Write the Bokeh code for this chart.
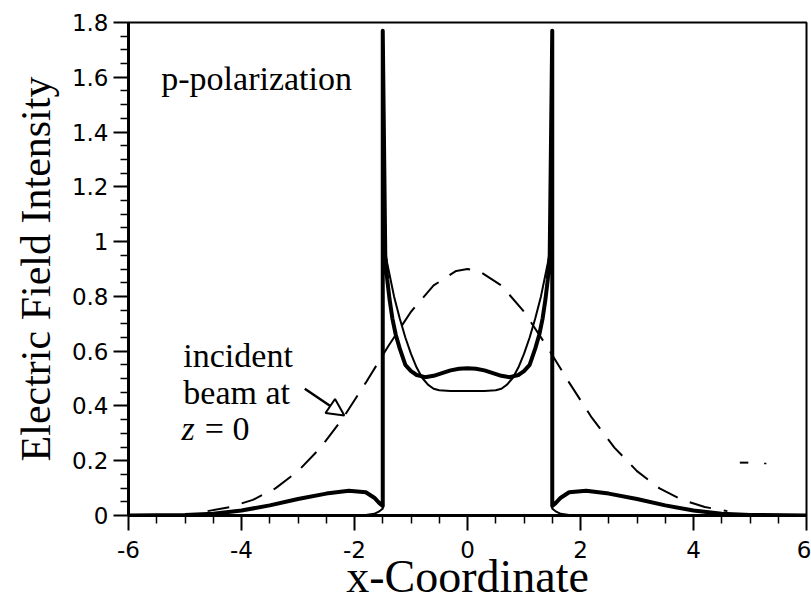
from bokeh.plotting import figure
from bokeh.models import FixedTicker, CustomJSTickFormatter, Arrow, NormalHead, Label
from bokeh.embed import file_html
from bokeh.resources import INLINE

# ---- data ----
x_thick = [-6.0, -5.0, -4.5, -4.0, -3.5, -3.0, -2.5, -2.1, -1.8, -1.65, -1.56, -1.5, -1.5,
           -1.455, -1.42, -1.38, -1.33, -1.27, -1.2, -1.1, -1.0, -0.9, -0.75, -0.6, -0.45,
           -0.3, -0.15, 0.0, 0.15, 0.3, 0.45, 0.6, 0.75, 0.9, 1.0, 1.1, 1.2, 1.27, 1.33,
           1.38, 1.42, 1.455, 1.5, 1.5, 1.56, 1.65, 1.8, 2.1, 2.5, 3.0, 3.5, 4.0, 4.5, 5.0, 6.0]
y_thick = [0.0, 0.002, 0.006, 0.018, 0.037, 0.06, 0.08, 0.09, 0.085, 0.065, 0.045, 0.035, 1.77,
           0.95, 0.86, 0.79, 0.72, 0.66, 0.61, 0.55, 0.527, 0.513, 0.505, 0.51, 0.52,
           0.53, 0.536, 0.538, 0.536, 0.53, 0.52, 0.51, 0.505, 0.513, 0.527, 0.55, 0.61, 0.66, 0.72,
           0.79, 0.86, 0.95, 1.77, 0.035, 0.045, 0.065, 0.085, 0.09, 0.08, 0.06, 0.037, 0.018, 0.006, 0.002, 0.0]

x_thin = [-6.0, -2.5, -1.8, -1.65, -1.57, -1.52, -1.5, -1.5, -1.46, -1.4, -1.3, -1.2, -1.1, -1.0,
          -0.9, -0.8, -0.7, -0.6, -0.5, -0.3, 0.0, 0.3, 0.5, 0.6, 0.7, 0.8, 0.9, 1.0, 1.1, 1.2,
          1.3, 1.4, 1.46, 1.5, 1.5, 1.52, 1.57, 1.65, 1.8, 2.5, 6.0]
y_thin = [0.0, 0.0, 0.002, 0.006, 0.014, 0.022, 0.025, 1.0, 0.96, 0.9, 0.8, 0.72, 0.65, 0.59,
          0.54, 0.502, 0.478, 0.463, 0.457, 0.455, 0.455, 0.455, 0.457, 0.463, 0.478, 0.502, 0.54, 0.59, 0.65, 0.72,
          0.8, 0.9, 0.96, 1.0, 0.025, 0.022, 0.014, 0.006, 0.002, 0.0, 0.0]

x_beam = [-4.6, -4.2, -3.8, -3.4, -3.0, -2.6, -2.2, -1.8, -1.4, -1.0, -0.6, -0.2, 0.0,
          0.2, 0.6, 1.0, 1.4, 1.8, 2.2, 2.6, 3.0, 3.4, 3.8, 4.2, 4.6]
y_beam = [0.016, 0.031, 0.057, 0.099, 0.162, 0.248, 0.357, 0.485, 0.619, 0.744, 0.840, 0.893, 0.9,
          0.893, 0.840, 0.744, 0.619, 0.485, 0.357, 0.248, 0.162, 0.099, 0.057, 0.031, 0.016]

x_ticks = [-6, -4, -2, 0, 2, 4, 6]
y_ticks = [0, 0.2, 0.4, 0.6, 0.8, 1.0, 1.2, 1.4, 1.6, 1.8]
x_minor = [-5.5, -5, -4.5, -3.5, -3, -2.5, -1.5, -1, -0.5, 0.5, 1, 1.5, 2.5, 3, 3.5, 4.5, 5, 5.5]
y_minor = [0.05, 0.1, 0.15, 0.25, 0.3, 0.35, 0.45, 0.5, 0.55, 0.65, 0.7, 0.75, 0.85, 0.9, 0.95,
           1.05, 1.1, 1.15, 1.25, 1.3, 1.35, 1.45, 1.5, 1.55, 1.65, 1.7, 1.75]

p = figure(width=811, height=604, x_range=(-6, 6), y_range=(0, 1.8),
           output_backend="svg", toolbar_location=None,
           min_border_left=128, min_border_right=5, min_border_top=22, min_border_bottom=89)

p.xgrid.visible = False
p.ygrid.visible = False
p.outline_line_color = "black"
p.outline_line_width = 2
p.background_fill_color = "white"
p.border_fill_color = "white"

fmt = CustomJSTickFormatter(code="return String(Math.round(tick*10)/10);")

p.xaxis.ticker = FixedTicker(ticks=x_ticks, minor_ticks=x_minor)
p.yaxis.ticker = FixedTicker(ticks=y_ticks, minor_ticks=y_minor)
p.xaxis.formatter = fmt
p.yaxis.formatter = fmt

serif = "Liberation Serif"
for ax in (p.xaxis[0], p.yaxis[0]):
    ax.axis_line_width = 3
    ax.axis_line_color = "black"
    ax.major_tick_line_width = 2
    ax.minor_tick_line_width = 1.5
    ax.major_tick_in = 0
    ax.major_tick_out = 15
    ax.minor_tick_in = 0
    ax.minor_tick_out = 8
    ax.major_label_text_font = "DejaVu Sans"
    ax.major_label_text_font_size = "23px"
    ax.major_label_text_color = "black"
    ax.axis_label_text_font = serif
    ax.axis_label_text_font_style = "normal"
    ax.axis_label_text_color = "black"

p.xaxis.major_label_standoff = 10
p.yaxis.major_label_standoff = 5
p.xaxis.axis_label = "x-Coordinate"
p.xaxis.axis_label_text_font_size = "46px"
p.xaxis.axis_label_standoff = -10
p.yaxis.axis_label = "Electric Field Intensity"
p.yaxis.axis_label_text_font_size = "42px"
p.yaxis.axis_label_standoff = 10

p.line(x_beam, y_beam, line_color="black", line_width=2, line_dash="22 13")
p.line(x_thin, y_thin, line_color="black", line_width=2)
p.line(x_thick, y_thick, line_color="black", line_width=4, line_join="round")

# stray mark near right
p.line([4.82, 4.97], [0.193, 0.193], line_color="black", line_width=2)
p.line([5.25, 5.29], [0.19, 0.19], line_color="black", line_width=1.5)

p.add_layout(Label(x=-5.42, y=1.595, text="p-polarization", text_font=serif,
                   text_font_size="34px", text_color="black", text_baseline="alphabetic"))
p.add_layout(Label(x=-5.03, y=0.584, text="incident", text_font=serif,
                   text_font_size="34px", text_color="black", text_baseline="alphabetic"))
p.add_layout(Label(x=-5.03, y=0.449, text="beam at", text_font=serif,
                   text_font_size="34px", text_color="black", text_baseline="alphabetic"))
p.add_layout(Label(x=-5.06, y=0.318, text="z", text_font=serif, text_font_style="italic",
                   text_font_size="34px", text_color="black", text_baseline="alphabetic"))
p.add_layout(Label(x=-4.65, y=0.318, text="= 0", text_font=serif,
                   text_font_size="34px", text_color="black", text_baseline="alphabetic"))

p.add_layout(Arrow(end=NormalHead(size=17, fill_color="white", line_color="black", line_width=2),
                   x_start=-2.88, y_start=0.463, x_end=-2.18, y_end=0.365,
                   line_color="black", line_width=2.5))

open("out.html", "w").write(file_html(p, INLINE))
